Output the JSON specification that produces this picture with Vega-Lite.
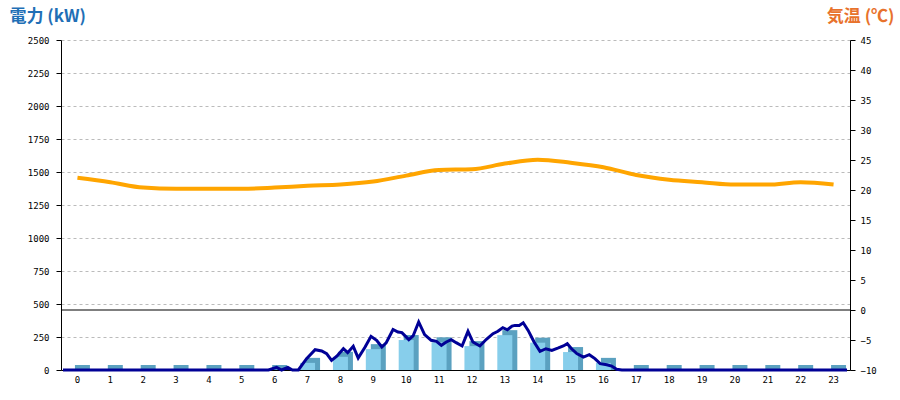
{
  "$schema": "https://vega.github.io/schema/vega-lite/v6.json",
  "width": 789,
  "height": 330,
  "autosize": {"type": "none"},
  "padding": {"left": 61, "top": 40, "right": 50, "bottom": 30},
  "background": "white",
  "config": {
    "view": {"stroke": null},
    "axis": {
      "labelFont": "DejaVu Sans Mono",
      "labelFontSize": 9,
      "labelColor": "#000000",
      "domainColor": "#000000",
      "tickColor": "#000000",
      "grid": false
    }
  },
  "datasets": {
    "hourly": [
      {"hour": 0, "kw": 0, "temp": 22.05},
      {"hour": 1, "kw": 0, "temp": 21.3},
      {"hour": 2, "kw": 0, "temp": 20.4},
      {"hour": 3, "kw": 0, "temp": 20.2},
      {"hour": 4, "kw": 0, "temp": 20.2},
      {"hour": 5, "kw": 0, "temp": 20.2},
      {"hour": 6, "kw": 0, "temp": 20.4},
      {"hour": 7, "kw": 54, "temp": 20.7},
      {"hour": 8, "kw": 100, "temp": 20.9},
      {"hour": 9, "kw": 158, "temp": 21.4},
      {"hour": 10, "kw": 227, "temp": 22.4},
      {"hour": 11, "kw": 210, "temp": 23.35},
      {"hour": 12, "kw": 181, "temp": 23.45},
      {"hour": 13, "kw": 264, "temp": 24.4},
      {"hour": 14, "kw": 207, "temp": 25.05},
      {"hour": 15, "kw": 136, "temp": 24.55},
      {"hour": 16, "kw": 54, "temp": 23.8},
      {"hour": 17, "kw": 0, "temp": 22.5},
      {"hour": 18, "kw": 0, "temp": 21.7},
      {"hour": 19, "kw": 0, "temp": 21.3},
      {"hour": 20, "kw": 0, "temp": 20.9},
      {"hour": 21, "kw": 0, "temp": 20.9},
      {"hour": 22, "kw": 0, "temp": 21.3},
      {"hour": 23, "kw": 0, "temp": 20.9}
    ],
    "power": [
      {"t": 0.06, "kw": 0},
      {"t": 6.31, "kw": 0},
      {"t": 6.56, "kw": 20},
      {"t": 6.71, "kw": 0},
      {"t": 6.9, "kw": 20},
      {"t": 7.04, "kw": 0},
      {"t": 7.22, "kw": 0},
      {"t": 7.47, "kw": 86},
      {"t": 7.73, "kw": 154},
      {"t": 7.93, "kw": 144},
      {"t": 8.08, "kw": 124},
      {"t": 8.23, "kw": 73},
      {"t": 8.39, "kw": 104},
      {"t": 8.59, "kw": 161},
      {"t": 8.72, "kw": 131},
      {"t": 8.89, "kw": 179},
      {"t": 9.04, "kw": 91},
      {"t": 9.25, "kw": 174},
      {"t": 9.43, "kw": 255},
      {"t": 9.6, "kw": 225},
      {"t": 9.76, "kw": 174},
      {"t": 9.89, "kw": 205},
      {"t": 10.1, "kw": 307},
      {"t": 10.25, "kw": 288},
      {"t": 10.37, "kw": 283},
      {"t": 10.58, "kw": 230},
      {"t": 10.71, "kw": 258},
      {"t": 10.88, "kw": 364},
      {"t": 11.06, "kw": 268},
      {"t": 11.26, "kw": 225},
      {"t": 11.42, "kw": 217},
      {"t": 11.57, "kw": 187},
      {"t": 11.72, "kw": 212},
      {"t": 11.87, "kw": 230},
      {"t": 12.02, "kw": 207},
      {"t": 12.2, "kw": 182},
      {"t": 12.38, "kw": 293},
      {"t": 12.53, "kw": 212},
      {"t": 12.74, "kw": 182},
      {"t": 12.94, "kw": 233},
      {"t": 13.14, "kw": 275},
      {"t": 13.29, "kw": 293},
      {"t": 13.44, "kw": 321},
      {"t": 13.58, "kw": 305},
      {"t": 13.72, "kw": 333},
      {"t": 13.81, "kw": 338},
      {"t": 13.94, "kw": 338},
      {"t": 14.06, "kw": 358},
      {"t": 14.21, "kw": 300},
      {"t": 14.39, "kw": 212},
      {"t": 14.57, "kw": 141},
      {"t": 14.75, "kw": 161},
      {"t": 14.93, "kw": 149},
      {"t": 15.13, "kw": 167},
      {"t": 15.28, "kw": 182},
      {"t": 15.4, "kw": 199},
      {"t": 15.53, "kw": 161},
      {"t": 15.69, "kw": 124},
      {"t": 15.89, "kw": 98},
      {"t": 16.07, "kw": 116},
      {"t": 16.24, "kw": 86},
      {"t": 16.4, "kw": 48},
      {"t": 16.6, "kw": 40},
      {"t": 16.75, "kw": 30},
      {"t": 16.9, "kw": 5},
      {"t": 17.06, "kw": 0},
      {"t": 23.91, "kw": 0}
    ]
  },
  "layer": [
    {
      "data": {"name": "hourly"},
      "mark": {"type": "bar", "size": 15, "color": "#5ba1c0", "xOffset": 5, "yOffset": -5, "y2Offset": 0},
      "encoding": {
        "x": {
          "field": "hour", "type": "ordinal",
          "axis": {"title": null, "labelAngle": 0, "ticks": false, "labelPadding": 5, "domain": true}
        },
        "y": {
          "field": "kw", "type": "quantitative",
          "scale": {"domain": [0, 2500], "nice": false},
          "axis": {
            "orient": "left",
            "format": "d",
            "title": "電力 (kW)",
            "titleAngle": 0,
            "titleAlign": "left",
            "titleBaseline": "middle",
            "titleX": -52,
            "titleY": -24,
            "titleFont": "Noto Sans CJK JP",
            "titleFontSize": 17,
            "titleFontWeight": "bold",
            "titleColor": "#1f6fb6",
            "values": [0, 250, 500, 750, 1000, 1250, 1500, 1750, 2000, 2250, 2500],
            "grid": true,
            "gridDash": [3, 3],
            "gridColor": "#bbbbbb",
            "tickSize": 5,
            "labelPadding": 7
          }
        },
        "y2": {"datum": 0}
      }
    },
    {
      "data": {"name": "hourly"},
      "mark": {"type": "bar", "size": 15, "color": "#87ceeb"},
      "encoding": {
        "x": {"field": "hour", "type": "ordinal", "axis": null},
        "y": {"field": "kw", "type": "quantitative", "scale": {"domain": [0, 2500], "nice": false}, "axis": null}
      }
    },
    {
      "data": {"values": [{}]},
      "mark": {"type": "rule", "color": "#000000", "strokeWidth": 1},
      "encoding": {
        "y": {"datum": 0, "type": "quantitative", "scale": {"domain": [-10, 45], "nice": false}, "axis": null}
      }
    },
    {
      "data": {"name": "power"},
      "mark": {"type": "line", "color": "#000096", "strokeWidth": 3},
      "encoding": {
        "x": {"field": "t", "type": "quantitative", "scale": {"domain": [0, 24], "nice": false, "zero": false}, "axis": null},
        "y": {"field": "kw", "type": "quantitative", "scale": {"domain": [0, 2500], "nice": false}, "axis": null}
      }
    },
    {
      "data": {"name": "hourly"},
      "mark": {"type": "line", "color": "#ffa500", "strokeWidth": 4, "interpolate": "monotone"},
      "encoding": {
        "x": {"field": "hour", "type": "ordinal", "axis": null},
        "y": {
          "field": "temp", "type": "quantitative",
          "scale": {"domain": [-10, 45], "nice": false, "zero": false},
          "axis": {
            "orient": "right",
            "title": "気温 (℃)",
            "titleAngle": 0,
            "titleAlign": "right",
            "titleBaseline": "middle",
            "titleX": 44,
            "titleY": -24,
            "titleFont": "Noto Sans CJK JP",
            "titleFontSize": 17,
            "titleFontWeight": "bold",
            "titleColor": "#e8722c",
            "values": [-10, -5, 0, 5, 10, 15, 20, 25, 30, 35, 40, 45],
            "grid": false,
            "tickSize": 5,
            "labelPadding": 5
          }
        }
      }
    }
  ],
  "resolve": {"scale": {"x": "independent", "y": "independent"}}
}
